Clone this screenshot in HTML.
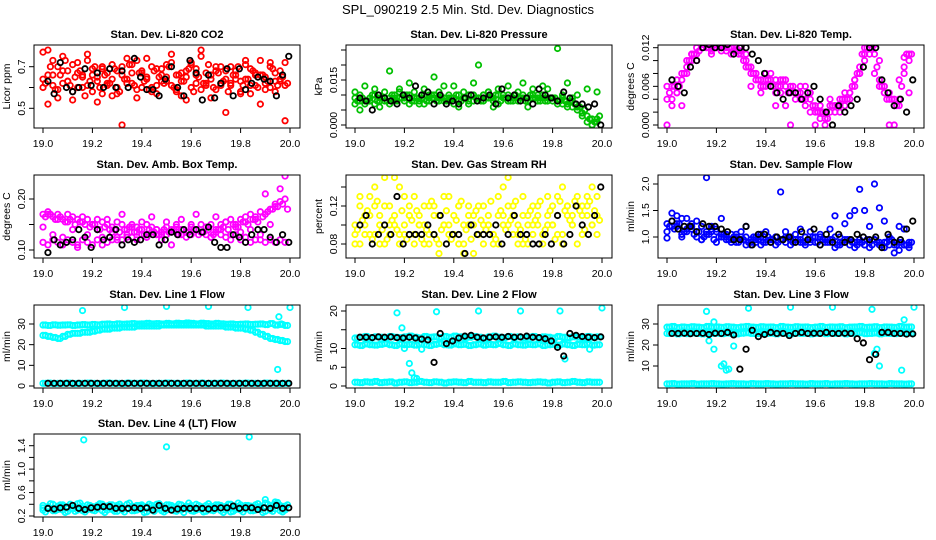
<!DOCTYPE html>
<html><head><meta charset="utf-8">
<style>
html,body{margin:0;padding:0;background:#fff;}
svg{display:block;font-family:"Liberation Sans",Arial,sans-serif;}
</style></head>
<body>
<svg id="chart" width="936" height="540" viewBox="0 0 936 540" xmlns="http://www.w3.org/2000/svg">
<rect width="936" height="540" fill="#fff"/>
<text x="468" y="14" text-anchor="middle" font-size="13">SPL_090219  2.5 Min. Std. Dev. Diagnostics</text>
</svg>
<script>
const T50=[19.00,19.02,19.04,19.06,19.08,19.10,19.12,19.14,19.16,19.18,19.20,19.22,19.24,19.26,19.28,19.30,19.32,19.34,19.36,19.38,19.40,19.42,19.44,19.46,19.48,19.50,19.52,19.54,19.56,19.58,19.60,19.62,19.64,19.66,19.68,19.70,19.72,19.74,19.76,19.78,19.80,19.82,19.84,19.86,19.88,19.90,19.92,19.94,19.96,19.98];
const T50b=[19.01,19.03,19.05,19.07,19.09,19.11,19.13,19.15,19.17,19.19,19.21,19.23,19.25,19.27,19.29,19.31,19.33,19.35,19.37,19.39,19.41,19.43,19.45,19.47,19.49,19.51,19.53,19.55,19.57,19.59,19.61,19.63,19.65,19.67,19.69,19.71,19.73,19.75,19.77,19.79,19.81,19.83,19.85,19.87,19.89,19.91,19.93,19.95,19.97,19.99];
const TB=[19.02,19.045,19.07,19.095,19.12,19.145,19.17,19.195,19.22,19.245,19.27,19.295,19.32,19.345,19.37,19.395,19.42,19.445,19.47,19.495,19.52,19.545,19.57,19.595,19.62,19.645,19.67,19.695,19.72,19.745,19.77,19.795,19.82,19.845,19.87,19.895,19.92,19.945,19.97,19.995];
const xTicks=[19.0,19.2,19.4,19.6,19.8,20.0];
const xTickLabels=["19.0","19.2","19.4","19.6","19.8","20.0"];

// Panel 1 CO2
const co2A=[0.64,0.78,0.66,0.70,0.62,0.68,0.58,0.72,0.65,0.61,0.69,0.63,0.57,0.67,0.71,0.60,0.66,0.74,0.62,0.59,0.68,0.64,0.70,0.61,0.66,0.63,0.72,0.58,0.67,0.65,0.60,0.69,0.75,0.62,0.66,0.59,0.70,0.64,0.61,0.68,0.63,0.71,0.57,0.66,0.73,0.62,0.60,0.67,0.64,0.72];
const co2B=[0.60,0.66,0.73,0.59,0.68,0.63,0.71,0.60,0.66,0.76,0.58,0.65,0.69,0.61,0.64,0.57,0.70,0.62,0.67,0.73,0.60,0.65,0.58,0.69,0.63,0.71,0.61,0.66,0.56,0.68,0.72,0.62,0.59,0.67,0.64,0.70,0.61,0.68,0.62,0.66,0.58,0.64,0.69,0.61,0.66,0.59,0.72,0.63,0.68,0.61];
const co2C=[0.77,0.52,0.61,0.55,0.75,0.63,0.54,0.67,0.60,0.73,0.66,0.53,0.70,0.62,0.56,0.68,0.42,0.64,0.71,0.55,0.67,0.74,0.60,0.57,0.69,0.65,0.76,0.59,0.63,0.54,0.71,0.66,0.78,0.61,0.55,0.68,0.62,0.48,0.70,0.64,0.57,0.73,0.61,0.67,0.52,0.65,0.70,0.58,0.63,0.44];
const co2D=[0.62,0.70,0.59,0.66,0.73,0.61,0.65,0.68,0.56,0.63,0.70,0.60,0.66,0.62,0.69,0.58,0.64,0.71,0.61,0.67,0.63,0.59,0.68,0.65,0.62,0.70,0.60,0.66,0.63,0.69,0.58,0.65,0.62,0.71,0.60,0.67,0.63,0.58,0.66,0.70,0.61,0.64,0.68,0.60,0.66,0.63,0.69,0.61,0.65,0.62];
const co2K=[0.63,0.57,0.72,0.60,0.58,0.60,0.69,0.61,0.67,0.60,0.69,0.60,0.68,0.60,0.74,0.65,0.59,0.59,0.56,0.64,0.70,0.60,0.56,0.73,0.67,0.54,0.66,0.55,0.62,0.69,0.56,0.69,0.59,0.62,0.65,0.64,0.63,0.56,0.66,0.75];
// Panel 2 pressure
const prA=[.009,.010,.008,.009,.010,.009,.008,.009,.010,.011,.009,.010,.008,.009,.010,.009,.010,.009,.008,.010,.009,.010,.009,.008,.010,.009,.010,.011,.009,.010,.009,.010,.008,.009,.010,.009,.010,.009,.010,.008,.009,.008,.009,.007,.008,.006,.004,.003,.002,.001];
const prB=[.007,.008,.007,.008,.007,.008,.009,.007,.008,.009,.008,.007,.009,.008,.007,.008,.009,.008,.009,.008,.007,.008,.009,.007,.008,.009,.008,.009,.008,.007,.009,.008,.009,.008,.009,.008,.009,.008,.009,.009,.008,.007,.007,.006,.006,.005,.003,.001,.000,.002];
const prC=[.011,.005,.013,.008,.012,.006,.011,.018,.009,.012,.010,.014,.011,.007,.012,.010,.016,.011,.013,.009,.013,.006,.011,.010,.014,.020,.010,.011,.006,.012,.010,.013,.009,.011,.014,.006,.012,.010,.013,.012,.009,.0255,.010,.014,.009,.010,.004,.012,.000,.011];
const prD=[.008,.009,.008,.010,.008,.009,.008,.010,.008,.009,.010,.008,.009,.009,.008,.010,.008,.009,.008,.009,.010,.008,.009,.010,.009,.008,.009,.009,.010,.008,.009,.008,.010,.009,.008,.010,.009,.008,.008,.009,.009,.008,.008,.008,.007,.006,.005,.002,.001,.003];
const prK=[.009,.008,.005,.010,.009,.008,.007,.010,.009,.013,.010,.011,.007,.010,.007,.008,.007,.009,.010,.008,.009,.010,.007,.012,.009,.010,.008,.009,.007,.012,.010,.009,.008,.011,.009,.007,.007,.006,.007,.000];
// Panel 3 Li-820 temp
const ltA=[.004,.006,.005,.007,.009,.010,.011,.012,.0125,.012,.0125,.012,.0125,.012,.0115,.011,.011,.009,.008,.007,.007,.006,.007,.006,.007,.006,.005,.005,.006,.004,.003,.002,.002,.002,.003,.003,.004,.005,.007,.009,.012,.0125,.011,.007,.005,.004,.004,.003,.009,.011];
const ltB=[.006,.004,.007,.008,.010,.011,.012,.0125,.012,.0115,.012,.0125,.0115,.012,.012,.0115,.010,.008,.007,.006,.008,.007,.005,.007,.006,.005,.004,.006,.004,.005,.002,.003,.001,.003,.002,.004,.003,.005,.006,.008,.010,.011,.0125,.010,.006,.005,.003,.004,.008,.010];
const ltC=[.000,.003,.005,.003,.008,.011,.010,.012,.0125,.011,.012,.0115,.012,.011,.0125,.012,.009,.006,.008,.005,.006,.008,.003,.005,.003,.000,.005,.004,.003,.002,.000,.001,.000,.004,.003,.002,.005,.004,.007,.008,.011,.012,.008,.006,.005,.000,.000,.007,.0105,.005];
const ltD=[.005,.006,.006,.008,.010,.011,.0115,.0125,.012,.0125,.012,.0125,.012,.0115,.011,.010,.009,.008,.007,.006,.007,.006,.006,.007,.005,.006,.005,.004,.005,.003,.002,.002,.001,.003,.003,.004,.004,.006,.008,.011,.012,.012,.009,.006,.004,.004,.003,.006,.011,.011];
const ltK=[.007,.006,.005,.009,.010,.012,.0125,.012,.012,.0125,.011,.012,.012,.011,.010,.008,.006,.005,.004,.005,.005,.004,.005,.006,.004,.002,.000,.003,.002,.003,.004,.009,.012,.012,.007,.005,.003,.004,.002,.007];
// Panel 4 amb box temp
const abA=[.17,.175,.165,.17,.16,.17,.165,.16,.155,.16,.15,.16,.155,.15,.145,.155,.15,.14,.15,.145,.14,.15,.145,.14,.135,.145,.14,.15,.14,.135,.145,.14,.15,.145,.15,.14,.15,.155,.16,.15,.16,.165,.17,.16,.175,.17,.18,.19,.195,.20];
const abB=[.115,.11,.12,.115,.11,.12,.115,.11,.12,.115,.11,.12,.125,.115,.12,.125,.12,.13,.125,.12,.13,.125,.135,.13,.12,.13,.135,.14,.13,.135,.13,.14,.135,.13,.125,.135,.13,.125,.12,.13,.12,.125,.115,.12,.12,.115,.12,.115,.12,.115];
const abC=[.145,.17,.13,.16,.125,.155,.14,.105,.165,.13,.15,.14,.11,.16,.135,.12,.17,.125,.145,.135,.155,.125,.165,.14,.13,.155,.11,.145,.16,.125,.15,.17,.135,.145,.125,.165,.14,.155,.13,.145,.135,.155,.14,.165,.13,.21,.15,.185,.22,.245];
const abD=[.165,.17,.16,.165,.155,.16,.15,.155,.15,.145,.15,.14,.145,.14,.14,.135,.14,.145,.135,.14,.13,.14,.135,.13,.14,.135,.14,.13,.14,.135,.14,.13,.135,.14,.13,.14,.145,.14,.15,.145,.155,.15,.16,.155,.165,.175,.18,.185,.19,.18];
const abK=[.095,.12,.11,.115,.12,.14,.125,.105,.14,.12,.125,.14,.11,.12,.115,.12,.13,.13,.11,.12,.135,.13,.14,.13,.14,.135,.145,.115,.105,.105,.13,.125,.115,.13,.14,.14,.125,.115,.13,.115];
// Panel 5 RH
const rhA=[.09,.12,.10,.13,.09,.11,.08,.12,.10,.14,.09,.11,.13,.10,.08,.12,.09,.11,.10,.13,.09,.12,.08,.11,.10,.09,.12,.10,.08,.11,.14,.10,.12,.09,.11,.08,.10,.12,.09,.13,.10,.11,.09,.12,.10,.13,.11,.12,.10,.13];
const rhB=[.10,.08,.11,.09,.12,.10,.15,.09,.11,.08,.10,.12,.09,.11,.10,.08,.12,.07,.10,.09,.11,.08,.10,.12,.07,.09,.10,.11,.09,.08,.10,.12,.11,.08,.13,.10,.09,.11,.08,.10,.12,.09,.14,.11,.10,.08,.12,.11,.14,.09];
const rhC=[.08,.13,.09,.11,.14,.08,.12,.10,.15,.09,.13,.11,.08,.10,.12,.09,.11,.08,.13,.10,.09,.12,.07,.10,.11,.12,.08,.10,.09,.13,.11,.15,.09,.10,.08,.11,.12,.10,.09,.11,.10,.13,.08,.12,.11,.12,.09,.13,.10,.11];
const rhD=[.095,.105,.115,.085,.125,.095,.085,.105,.095,.115,.085,.105,.115,.085,.095,.125,.085,.095,.115,.085,.105,.125,.095,.085,.115,.105,.095,.125,.085,.115,.095,.105,.125,.095,.085,.115,.105,.125,.095,.115,.085,.125,.115,.105,.125,.115,.095,.125,.115,.105];
const rhK=[.10,.11,.08,.09,.10,.09,.13,.08,.09,.09,.09,.10,.09,.11,.08,.09,.09,.07,.10,.09,.09,.09,.10,.08,.09,.11,.09,.09,.08,.08,.09,.08,.11,.08,.09,.12,.10,.09,.11,.14];
// Panel 6 sample flow
const sfA=[1.25,1.3,1.2,1.35,1.15,1.25,1.1,1.2,1.05,1.15,1.1,1.0,1.05,0.95,1.0,0.95,1.0,0.9,0.95,1.0,0.9,0.95,1.0,0.95,0.9,1.0,0.95,0.9,1.0,0.95,0.9,1.0,0.95,0.9,1.0,0.9,0.95,0.85,0.9,0.95,0.85,0.9,0.95,0.85,0.9,0.95,0.85,0.9,0.85,0.9];
const sfB=[1.1,1.2,1.4,1.0,1.1,1.15,1.0,0.95,1.1,1.2,0.9,1.05,0.95,1.05,0.9,1.0,0.85,0.95,0.9,0.85,0.95,0.9,0.85,0.95,1.0,0.85,0.9,0.95,0.85,0.9,1.0,0.85,0.9,0.95,0.8,0.85,0.9,0.95,0.8,0.9,0.85,0.8,0.95,0.9,0.8,0.85,0.9,0.75,0.85,0.8];
const sfC=[0.98,1.45,1.25,1.05,1.35,1.2,1.3,0.95,2.12,1.1,1.15,1.35,1.0,0.9,1.05,1.1,1.2,0.85,1.0,1.05,1.1,0.95,1.0,1.85,1.1,0.95,1.05,1.15,0.9,1.1,1.0,1.05,0.95,1.15,1.4,1.0,1.25,1.4,1.5,1.9,1.5,1.2,2.0,1.55,1.3,1.0,0.7,1.2,1.15,0.85];
const sfD=[1.2,1.15,1.25,1.1,1.2,1.05,1.1,1.0,1.05,0.95,1.0,1.05,0.95,1.0,0.9,0.95,0.9,1.0,0.95,0.9,1.0,0.95,0.9,0.95,1.0,0.9,0.95,0.9,0.95,1.0,0.9,0.95,0.9,0.95,0.85,0.9,0.95,0.9,0.85,0.9,0.95,0.85,0.9,0.85,0.9,0.95,0.85,0.9,0.85,0.9];
const sfK=[1.3,1.15,1.2,1.2,1.1,1.25,1.2,1.2,1.15,1.1,0.95,0.95,1.2,0.85,1.05,1.05,0.9,1.0,0.95,1.0,0.9,1.1,0.95,1.15,0.85,1.05,0.9,1.05,0.9,0.95,1.05,1.0,0.95,1.0,0.8,1.05,0.9,0.95,1.15,1.3];
// Panel 7 line 1
const l1A=[29.5,29.3,29.6,29.4,29.5,29.6,29.3,29.5,29.7,29.5,29.8,29.6,29.9,30.0,29.8,30.1,29.9,30.0,30.2,30.0,30.1,30.3,30.1,30.2,30.0,30.3,30.1,30.4,30.2,30.5,30.3,30.1,30.4,30.2,30.0,30.3,30.1,29.9,30.0,29.8,29.9,30.0,29.8,29.9,30.0,29.7,30.2,29.5,29.8,29.3];
const l1B=[24.5,24.0,23.5,23.0,24.0,25.0,25.5,25.5,26.0,26.0,26.5,27.0,27.5,27.5,28.0,28.0,28.5,28.5,28.5,29.0,29.0,29.0,29.0,29.0,29.5,29.5,29.5,29.5,29.5,29.5,29.5,29.5,29.5,29.0,29.0,29.0,29.0,28.5,28.5,28.0,28.0,27.5,27.0,26.0,25.0,24.0,23.0,22.5,22.0,21.5];
const l1C=[1.3,1.4,1.2,1.3,1.3,1.4,1.2,1.3,1.3,1.4,1.3,1.2,1.3,1.4,1.3,1.3,1.2,1.4,1.3,1.3,1.4,1.3,1.2,1.3,1.3,1.4,1.3,1.3,1.2,1.4,1.3,1.3,1.4,1.2,1.3,1.3,1.4,1.3,1.2,1.3,1.3,1.4,1.3,1.3,1.2,1.4,1.3,1.3,1.2,1.3];
const l1OutT=[19.16,19.33,19.50,19.67,19.83,19.955,19.95,19.965,20.0];
const l1OutV=[36.5,38,38.5,38.5,38,33.5,8,30,38];
const l1K=[1.3,1.3,1.3,1.3,1.3,1.3,1.3,1.3,1.3,1.3,1.3,1.3,1.3,1.3,1.3,1.3,1.3,1.3,1.3,1.3,1.3,1.3,1.3,1.3,1.3,1.3,1.3,1.3,1.3,1.3,1.3,1.3,1.3,1.3,1.3,1.3,1.3,1.3,1.3,1.3];
// Panel 8 line 2
const l2A=[12.8,13.0,13.2,12.9,13.1,13.0,12.8,13.2,13.0,12.9,13.1,13.3,13.0,12.8,13.2,13.0,13.1,12.9,13.2,13.0,13.3,13.1,12.9,13.0,13.2,13.0,12.8,13.1,13.3,13.0,12.9,13.2,13.0,13.1,12.8,13.0,13.2,12.9,13.1,13.0,12.8,13.2,13.0,12.9,13.1,13.0,12.8,13.2,13.0,13.1];
const l2B=[11.0,10.8,11.2,11.0,10.9,11.1,11.3,11.0,10.8,11.2,11.0,11.1,10.9,11.2,11.0,10.8,11.1,11.3,11.0,10.9,11.2,11.0,11.1,10.8,11.0,11.2,10.9,11.1,11.0,11.3,11.0,10.8,11.2,11.0,10.9,11.1,11.0,11.2,10.8,11.0,11.1,10.9,11.2,11.0,10.8,11.1,11.0,11.2,10.9,11.0];
const l2C=[1.0,0.9,1.1,1.0,1.2,0.9,1.0,1.1,0.8,1.0,1.1,0.9,1.0,1.2,1.0,0.9,1.1,1.0,0.8,1.0,1.1,1.0,0.9,1.2,1.0,1.0,0.9,1.1,1.0,1.0,1.2,0.9,1.0,1.1,1.0,0.9,1.0,1.1,1.0,0.8,1.0,1.1,0.9,1.0,1.2,1.0,0.9,1.1,1.0,1.0];
const l2OutT=[19.17,19.19,19.20,19.22,19.23,19.24,19.25,19.27,19.33,19.50,19.67,19.83,19.85,19.95,20.0];
const l2OutV=[19.5,15.5,10,6,3.5,2.2,2,9.8,19.8,20,20,20,7.2,9.8,20.8];
const l2K=[13.0,13.0,12.9,13.1,13.0,13.1,12.9,12.8,13.0,12.8,12.5,12.3,6.3,14.0,11.3,12.0,12.8,13.3,13.5,13.0,12.8,13.0,13.1,13.0,13.2,13.0,13.1,13.3,13.0,12.9,12.6,12.0,10.3,8.0,14.0,13.5,13.2,13.0,12.9,13.1];
// Panel 9 line 3
const l3A=[28.5,28.8,28.3,28.6,28.4,28.7,28.5,28.3,28.8,28.5,28.6,28.4,28.7,28.5,28.3,28.6,28.8,28.5,28.4,28.7,28.5,28.6,28.3,28.8,28.5,28.4,28.7,28.5,28.6,28.3,28.5,28.8,28.4,28.6,28.5,28.7,28.3,28.5,28.6,28.8,28.4,28.5,28.7,28.3,28.6,28.5,28.4,28.8,28.5,28.6];
const l3B=[25.5,25.8,25.3,25.6,25.4,25.7,25.5,25.3,25.8,25.5,25.6,25.4,25.7,25.5,25.3,25.6,25.8,25.5,25.4,25.7,25.5,25.6,25.3,25.8,25.5,25.4,25.7,25.5,25.6,25.3,25.5,25.8,25.4,25.6,25.5,25.7,25.3,25.5,25.6,25.8,25.4,25.5,25.7,25.3,25.6,25.5,25.4,25.8,25.5,25.6];
const l3C=[1.5,1.6,1.4,1.5,1.5,1.6,1.4,1.5,1.5,1.6,1.5,1.4,1.5,1.6,1.5,1.5,1.4,1.6,1.5,1.5,1.6,1.5,1.4,1.5,1.5,1.6,1.5,1.5,1.4,1.6,1.5,1.5,1.6,1.4,1.5,1.5,1.6,1.5,1.4,1.5,1.5,1.6,1.5,1.5,1.4,1.6,1.5,1.5,1.4,1.5];
const l3OutT=[19.16,19.19,19.17,19.19,19.22,19.23,19.24,19.25,19.27,19.33,19.50,19.67,19.83,19.85,19.86,19.95,19.96,20.0,19.84];
const l3OutV=[36,31,22,18,10,11,8,8.5,19.5,37.5,38,38,37,18,10,8,32,38,16];
const l3K=[25.5,25.5,25.6,25.4,25.5,25.6,25.0,25.6,25.5,26.0,24.8,8.5,18,27,24,25.0,26.0,25.5,25.5,24.5,25.5,26.0,25.5,25.6,25.5,26.0,25.5,25.5,25.6,25.5,23,21,13,15.5,26,26,25.5,25.5,25.2,25.3];
// Panel 10 line 4
const l4A=[0.38,0.36,0.40,0.37,0.39,0.36,0.38,0.41,0.37,0.39,0.36,0.38,0.40,0.37,0.39,0.38,0.36,0.40,0.37,0.38,0.39,0.36,0.38,0.40,0.37,0.39,0.38,0.36,0.39,0.37,0.38,0.40,0.36,0.38,0.37,0.39,0.38,0.36,0.40,0.37,0.39,0.38,0.37,0.39,0.36,0.42,0.38,0.40,0.38,0.37];
const l4B=[0.30,0.32,0.29,0.31,0.30,0.28,0.32,0.30,0.29,0.31,0.30,0.32,0.29,0.30,0.31,0.28,0.30,0.32,0.29,0.30,0.31,0.27,0.30,0.32,0.29,0.30,0.31,0.28,0.30,0.32,0.29,0.30,0.31,0.28,0.30,0.32,0.29,0.30,0.27,0.31,0.30,0.32,0.29,0.30,0.31,0.28,0.30,0.32,0.29,0.30];
const l4C=[0.34,0.35,0.33,0.34,0.36,0.33,0.34,0.35,0.33,0.34,0.35,0.33,0.36,0.34,0.33,0.35,0.34,0.33,0.35,0.34,0.36,0.33,0.34,0.35,0.33,0.34,0.35,0.34,0.33,0.36,0.34,0.33,0.35,0.34,0.33,0.35,0.34,0.36,0.33,0.34,0.35,0.33,0.34,0.35,0.34,0.48,0.34,0.44,0.35,0.33];
const l4D=[0.27,0.41,0.29,0.39,0.26,0.40,0.28,0.42,0.27,0.38,0.29,0.41,0.26,0.39,0.28,0.40,0.27,0.42,0.29,0.38,0.26,0.40,0.28,0.41,0.27,0.39,0.29,0.40,0.26,0.42,0.28,0.38,0.27,0.41,0.29,0.39,0.26,0.40,0.28,0.42,0.27,0.38,0.29,0.41,0.26,0.40,0.28,0.43,0.27,0.39];
const l4OutT=[19.165,19.50,19.835];
const l4OutV=[1.50,1.38,1.55];
const l4K=[0.33,0.32,0.34,0.35,0.38,0.33,0.31,0.34,0.35,0.36,0.36,0.33,0.33,0.33,0.34,0.33,0.34,0.30,0.38,0.33,0.30,0.32,0.33,0.33,0.33,0.33,0.32,0.33,0.34,0.34,0.37,0.33,0.34,0.34,0.31,0.34,0.33,0.38,0.33,0.34];

const NS='http://www.w3.org/2000/svg';
const svg=document.getElementById('chart');
function mk(tag,attrs,parent){const e=document.createElementNS(NS,tag);for(const k in attrs)e.setAttribute(k,attrs[k]);(parent||svg).appendChild(e);return e;}

const panels=[
 {id:'co2',title:'Stan. Dev. Li-820 CO2',ylab:'Licor ppm',c:0,r:0,v0:0.5,p0:108.3,v1:0.7,p1:66.7,ticks:[0.5,0.6,0.7],tl:['0.5','','0.7'],color:'#ff0000',
  series:[[T50,co2A],[T50,co2B],[T50,co2C],[T50b,co2D]],black:[TB,co2K]},
 {id:'pressure',title:'Stan. Dev. Li-820 Pressure',ylab:'kPa',c:1,r:0,v0:0,p0:125,v1:0.015,p1:80,ticks:[0,0.005,0.01,0.015,0.02,0.025],tl:['0.000','','','0.015','',''],color:'#00c000',
  series:[[T50,prA],[T50,prB],[T50,prC],[T50b,prD]],black:[TB,prK]},
 {id:'li820-temp',title:'Stan. Dev. Li-820 Temp.',ylab:'degrees C',c:2,r:0,v0:0,p0:125,v1:0.012,p1:47.7,ticks:[0,0.002,0.004,0.006,0.008,0.010,0.012],tl:['0.000','','','0.006','','','0.012'],color:'#ff00ff',
  series:[[T50,ltA],[T50,ltB],[T50,ltC],[T50b,ltD]],black:[TB,ltK]},
 {id:'amb-box-temp',title:'Stan. Dev. Amb. Box Temp.',ylab:'degrees C',c:0,r:1,v0:0.10,p0:250,v1:0.20,p1:199,ticks:[0.10,0.15,0.20],tl:['0.10','','0.20'],color:'#ff00ff',
  series:[[T50,abA],[T50,abB],[T50,abC],[T50b,abD]],black:[TB,abK]},
 {id:'gas-rh',title:'Stan. Dev. Gas Stream RH',ylab:'percent',c:1,r:1,v0:0.08,p0:244,v1:0.12,p1:206,ticks:[0.08,0.10,0.12,0.14],tl:['0.08','','0.12',''],color:'#ffff00',
  series:[[T50,rhA],[T50,rhB],[T50,rhC],[T50b,rhD]],black:[TB,rhK]},
 {id:'sample-flow',title:'Stan. Dev. Sample Flow',ylab:'ml/min',c:2,r:1,v0:1.0,p0:237,v1:2.0,p1:184,ticks:[1.0,1.5,2.0],tl:['1.0','1.5','2.0'],color:'#0000ff',
  series:[[T50,sfA],[T50,sfB],[T50,sfC],[T50b,sfD]],black:[TB,sfK]},
 {id:'line1-flow',title:'Stan. Dev. Line 1 Flow',ylab:'ml/min',c:0,r:2,v0:0,p0:386,v1:30,p1:324,ticks:[0,10,20,30],tl:['0','10','20','30'],color:'#00ffff',
  series:[[T50,l1A],[T50,l1B],[T50,l1C],[T50b,l1A],[T50b,l1B],[T50b,l1C],[l1OutT,l1OutV]],black:[TB,l1K]},
 {id:'line2-flow',title:'Stan. Dev. Line 2 Flow',ylab:'ml/min',c:1,r:2,v0:0,p0:386,v1:20,p1:311,ticks:[0,5,10,15,20],tl:['0','5','10','','20'],color:'#00ffff',
  series:[[T50,l2A],[T50,l2B],[T50,l2C],[T50b,l2A],[T50b,l2B],[T50b,l2C],[l2OutT,l2OutV]],black:[TB,l2K]},
 {id:'line3-flow',title:'Stan. Dev. Line 3 Flow',ylab:'ml/min',c:2,r:2,v0:10,p0:366,v1:30,p1:324,ticks:[10,20,30],tl:['10','20','30'],color:'#00ffff',
  series:[[T50,l3A],[T50,l3B],[T50,l3C],[T50b,l3A],[T50b,l3B],[T50b,l3C],[l3OutT,l3OutV]],black:[TB,l3K]},
 {id:'line4-flow',title:'Stan. Dev. Line 4 (LT) Flow',ylab:'ml/min',c:0,r:3,v0:0.2,p0:516,v1:1.4,p1:445.7,ticks:[0.2,0.4,0.6,0.8,1.0,1.2,1.4],tl:['0.2','','0.6','','1.0','','1.4'],color:'#00ffff',
  series:[[T50,l4A],[T50,l4B],[T50,l4C],[T50b,l4D],[l4OutT,l4OutV]],black:[TB,l4K]}
];
const rowTop=[45,175,305,434];

panels.forEach(p=>{
  const x0=34+312*p.c, y0=rowTop[p.r], w=266, h=83;
  const g=mk('g',{});
  
  
  const xs=v=>x0+9+(v-19)*247;
  const ys=v=>p.p0+(v-p.v0)*(p.p1-p.p0)/(p.v1-p.v0);
  const t=mk('text',{x:x0+w/2,y:y0-7,'text-anchor':'middle','font-size':'11','font-weight':'bold'},g);
  t.textContent=p.title;
  
  
  const yl=mk('text',{x:0,y:0,'text-anchor':'middle','font-size':'10.5',transform:`translate(${x0-24},${y0+h/2}) rotate(-90)`},g);
  yl.textContent=p.ylab;
  
  
  const xa=mk('g',{},g);
  
  
  mk('line',{x1:xs(19),x2:xs(20),y1:y0+h,y2:y0+h,stroke:'#000','stroke-width':1},xa);
  xTicks.forEach((v,i)=>{
    mk('line',{x1:xs(v),x2:xs(v),y1:y0+h,y2:y0+h+5,stroke:'#000','stroke-width':1},xa);
    const tl=mk('text',{x:xs(v),y:y0+h+19,'text-anchor':'middle','font-size':'10.5'},xa);
    tl.textContent=xTickLabels[i];
    
    
  });
  const ya=mk('g',{},g);
  
  
  mk('line',{x1:x0,x2:x0,y1:ys(p.ticks[0]),y2:ys(p.ticks[p.ticks.length-1]),stroke:'#000','stroke-width':1},ya);
  p.ticks.forEach((v,i)=>{
    const yy=ys(v);
    mk('line',{x1:x0-5,x2:x0,y1:yy,y2:yy,stroke:'#000','stroke-width':1},ya);
    if(p.tl[i]){
      const tl=mk('text',{x:0,y:0,'text-anchor':'middle','font-size':'10.5',transform:`translate(${x0-9},${yy}) rotate(-90)`},ya);
      tl.textContent=p.tl[i];
      
      
    }
  });
  const clipId='clip-'+p.id;
  const cp=mk('clipPath',{id:clipId},g);
  mk('rect',{x:x0,y:y0,width:w,height:h},cp);
  const pts=mk('g',{'clip-path':`url(#${clipId})`,fill:'none','stroke-width':1.8},g);
  
  
  p.series.forEach(s=>{
    s[1].forEach((v,i)=>{
      const c=mk('circle',{cx:xs(s[0][i]),cy:ys(v),r:2.7,stroke:p.color},pts);
      
      
    });
  });
  p.black[1].forEach((v,i)=>{
    const c=mk('circle',{cx:xs(p.black[0][i]),cy:ys(v),r:2.7,stroke:'#000'},pts);
    
    
  });
  const fr=mk('rect',{x:x0,y:y0,width:w,height:h,fill:'none',stroke:'#000','stroke-width':1},g);
  
  
});
</script>
</body></html>
